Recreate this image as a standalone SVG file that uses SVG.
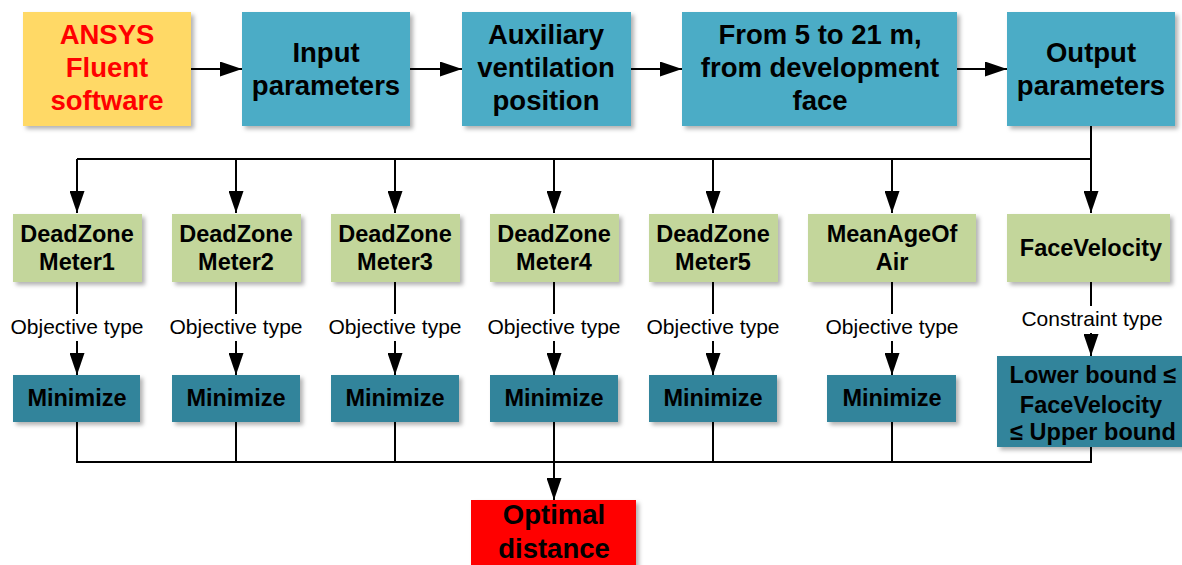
<svg xmlns="http://www.w3.org/2000/svg" width="1182" height="565" viewBox="0 0 1182 565">
<defs>
<marker id="ah" viewBox="0 0 22 15" refX="22" refY="7.5" markerWidth="22" markerHeight="15" markerUnits="userSpaceOnUse" orient="auto">
<path d="M0,0 L22,7.5 L0,15 z" fill="#000"/>
</marker>
<filter id="sh" x="-10%" y="-10%" width="130%" height="130%">
<feDropShadow dx="3" dy="3" stdDeviation="2" flood-color="#000" flood-opacity="0.3"/>
</filter>
</defs>
<style>
.box{filter:url(#sh)}
.yel{fill:#FFD966}
.blu{fill:#4BACC6}
.grn{fill:#C3D69B}
.tea{fill:#31849B}
.red{fill:#FF0000}
.t1{font-family:"Liberation Sans",Arial,sans-serif;font-weight:bold;font-size:27.5px;text-anchor:middle;fill:#000}
.t2{font-family:"Liberation Sans",Arial,sans-serif;font-weight:bold;font-size:23.5px;text-anchor:middle;fill:#000}
.lb{font-family:"Liberation Sans",Arial,sans-serif;font-size:21px;text-anchor:middle;fill:#000}
.ln{stroke:#000;stroke-width:2;fill:none}
.ar{stroke:#000;stroke-width:2;fill:none;marker-end:url(#ah)}
</style>
<rect width="1182" height="565" fill="#fff"/>
<g id="connectors">
<line class="ar" x1="191" y1="69" x2="242" y2="69"/>
<line class="ar" x1="410" y1="69" x2="462" y2="69"/>
<line class="ar" x1="631" y1="69" x2="682" y2="69"/>
<line class="ar" x1="957" y1="69" x2="1007" y2="69"/>
<polyline class="ln" points="1091,126 1091,159 77,159"/>
<line class="ar" x1="77" y1="159" x2="77" y2="213"/>
<line class="ar" x1="236" y1="159" x2="236" y2="213"/>
<line class="ar" x1="395" y1="159" x2="395" y2="213"/>
<line class="ar" x1="554" y1="159" x2="554" y2="213"/>
<line class="ar" x1="713" y1="159" x2="713" y2="213"/>
<line class="ar" x1="892" y1="159" x2="892" y2="213"/>
<line class="ar" x1="1091" y1="159" x2="1091" y2="213"/>
<line class="ln" x1="77" y1="282" x2="77" y2="314"/>
<line class="ln" x1="236" y1="282" x2="236" y2="314"/>
<line class="ln" x1="395" y1="282" x2="395" y2="314"/>
<line class="ln" x1="554" y1="282" x2="554" y2="314"/>
<line class="ln" x1="713" y1="282" x2="713" y2="314"/>
<line class="ln" x1="892" y1="282" x2="892" y2="314"/>
<line class="ln" x1="1091" y1="282" x2="1091" y2="306"/>
<line class="ar" x1="77" y1="341" x2="77" y2="375"/>
<line class="ar" x1="236" y1="341" x2="236" y2="375"/>
<line class="ar" x1="395" y1="341" x2="395" y2="375"/>
<line class="ar" x1="554" y1="341" x2="554" y2="375"/>
<line class="ar" x1="713" y1="341" x2="713" y2="375"/>
<line class="ar" x1="892" y1="341" x2="892" y2="375"/>
<line class="ar" x1="1091" y1="333" x2="1091" y2="356"/>
<line class="ln" x1="77" y1="422" x2="77" y2="462"/>
<line class="ln" x1="236" y1="422" x2="236" y2="462"/>
<line class="ln" x1="395" y1="422" x2="395" y2="462"/>
<line class="ln" x1="554" y1="422" x2="554" y2="462"/>
<line class="ln" x1="713" y1="422" x2="713" y2="462"/>
<line class="ln" x1="892" y1="422" x2="892" y2="462"/>
<line class="ln" x1="1091" y1="447" x2="1091" y2="462"/>
<line class="ln" x1="76" y1="462" x2="1092" y2="462"/>
<line class="ar" x1="554" y1="462" x2="554" y2="500"/>
<text class="lb" x="77" y="334">Objective type</text>
<text class="lb" x="236" y="334">Objective type</text>
<text class="lb" x="395" y="334">Objective type</text>
<text class="lb" x="554" y="334">Objective type</text>
<text class="lb" x="713" y="334">Objective type</text>
<text class="lb" x="892" y="334">Objective type</text>
<text class="lb" x="1092" y="326">Constraint type</text>
</g>
<g id="ansys"><rect class="box yel" x="23" y="12" width="168" height="114"/>
<text class="t1" x="107" y="44" style="fill:#FF0000">ANSYS</text><text class="t1" x="107" y="77" style="fill:#FF0000">Fluent</text><text class="t1" x="107" y="110" style="fill:#FF0000">software</text></g>
<g id="input"><rect class="box blu" x="242" y="12" width="168" height="114"/>
<text class="t1" x="326" y="62">Input</text><text class="t1" x="326" y="95">parameters</text></g>
<g id="aux"><rect class="box blu" x="462" y="12" width="169" height="114"/>
<text class="t1" x="546" y="44">Auxiliary</text><text class="t1" x="546" y="77">ventilation</text><text class="t1" x="546" y="110">position</text></g>
<g id="range"><rect class="box blu" x="682" y="12" width="275" height="114"/>
<text class="t1" x="820" y="44">From 5 to 21 m,</text><text class="t1" x="820" y="77">from development</text><text class="t1" x="820" y="110">face</text></g>
<g id="output"><rect class="box blu" x="1007" y="12" width="168" height="114"/>
<text class="t1" x="1091" y="62">Output</text><text class="t1" x="1091" y="95">parameters</text></g>
<g id="dz1"><rect class="box grn" x="13" y="214" width="129" height="68"/>
<text class="t2" x="77" y="242">DeadZone</text><text class="t2" x="77" y="270">Meter1</text></g>
<g id="dz2"><rect class="box grn" x="172" y="214" width="129" height="68"/>
<text class="t2" x="236" y="242">DeadZone</text><text class="t2" x="236" y="270">Meter2</text></g>
<g id="dz3"><rect class="box grn" x="331" y="214" width="129" height="68"/>
<text class="t2" x="395" y="242">DeadZone</text><text class="t2" x="395" y="270">Meter3</text></g>
<g id="dz4"><rect class="box grn" x="490" y="214" width="129" height="68"/>
<text class="t2" x="554" y="242">DeadZone</text><text class="t2" x="554" y="270">Meter4</text></g>
<g id="dz5"><rect class="box grn" x="649" y="214" width="129" height="68"/>
<text class="t2" x="713" y="242">DeadZone</text><text class="t2" x="713" y="270">Meter5</text></g>
<g id="mage"><rect class="box grn" x="808" y="214" width="168" height="68"/>
<text class="t2" x="892" y="242">MeanAgeOf</text><text class="t2" x="892" y="270">Air</text></g>
<g id="fvel"><rect class="box grn" x="1007" y="214" width="163" height="68"/>
<text class="t2" x="1091" y="256">FaceVelocity</text></g>
<g id="min1"><rect class="box tea" x="13" y="375" width="127" height="47"/><text class="t2" x="77" y="406">Minimize</text></g>
<g id="min2"><rect class="box tea" x="172" y="375" width="128" height="47"/><text class="t2" x="236" y="406">Minimize</text></g>
<g id="min3"><rect class="box tea" x="331" y="375" width="128" height="47"/><text class="t2" x="395" y="406">Minimize</text></g>
<g id="min4"><rect class="box tea" x="490" y="375" width="128" height="47"/><text class="t2" x="554" y="406">Minimize</text></g>
<g id="min5"><rect class="box tea" x="649" y="375" width="128" height="47"/><text class="t2" x="713" y="406">Minimize</text></g>
<g id="min6"><rect class="box tea" x="827" y="375" width="129" height="47"/><text class="t2" x="892" y="406">Minimize</text></g>
<g id="bound"><rect class="box tea" x="997" y="356" width="190" height="91"/>
<text class="t2" x="1093" y="383">Lower bound ≤</text><text class="t2" x="1091" y="413">FaceVelocity</text><text class="t2" x="1093" y="440">≤ Upper bound</text></g>
<g id="optimal"><rect class="box red" x="471" y="500" width="165" height="75"/>
<text class="t1" x="554" y="524">Optimal</text><text class="t1" x="554" y="558">distance</text></g>
</svg>
